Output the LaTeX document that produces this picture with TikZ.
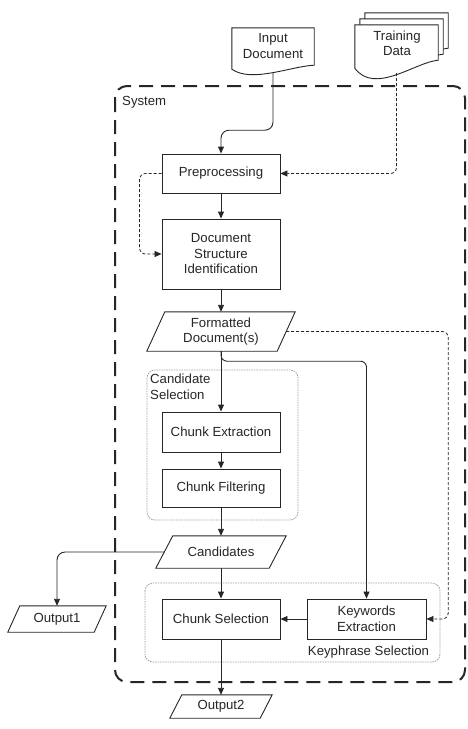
\documentclass[tikz,border=0pt]{standalone}
\usepackage{fontspec}
\setmainfont{Liberation Sans}
\usetikzlibrary{arrows.meta,calc}
\definecolor{ink}{rgb}{0.15,0.15,0.15}
\tikzset{
 txt/.style={font=\fontsize{13.2}{15.5}\selectfont, text=ink, align=center, inner sep=0pt},
 blk/.style={txt, draw=ink, line width=0.9pt, fill=white, minimum width=118pt, minimum height=40pt},
 arr/.style={draw=ink, line width=0.9pt, -{Triangle[length=7pt,width=6pt]}},
 darr/.style={arr, dash pattern=on 3pt off 2pt, line width=0.8pt},
 grp/.style={draw=gray!75, line width=0.8pt, dash pattern=on 1.5pt off 1pt, rounded corners=8pt},
 sys/.style={draw=ink, line width=2pt, dash pattern=on 14pt off 8pt, rounded corners=12pt},
 docn/.style={inner sep=0pt, minimum width=83pt, minimum height=48pt},
 shp/.style={draw=ink, line width=0.9pt, fill=white},
}
\newcommand{\parabox}[7]{%
 \node[txt, minimum width=#4pt, minimum height=#5pt] (#1) at (#2,#3) {#7};
 \draw[draw=ink, line width=0.9pt] ([xshift=#6pt]#1.north west) -- ([xshift=#6pt]#1.north east) -- ([xshift=-#6pt]#1.south east) -- ([xshift=-#6pt]#1.south west) -- cycle;}
% name, right end rise, left end rise, control 1 rise, control 2 drop
\newcommand{\docpath}[5]{(#1.north west) -- (#1.north east) -- ($(#1.south east)+(0,-#2)$) .. controls ($(#1.south east)+(-23,-#4)$) and ($(#1.south west)+(20,#5)$) .. ($(#1.south west)+(0,-#3)$) -- cycle}
\begin{document}
\begin{tikzpicture}[x=1pt,y=-1pt]
\useasboundingbox (0,0) rectangle (467,729);
% system and groups
\draw[sys] (115,86) rectangle (465,682);
\draw[grp] (147,370) rectangle (298,520);
\draw[grp] (145,583) rectangle (440,662);
\node[txt, anchor=west] (syslbl) at (122,102) {System};
\node[txt, align=left, anchor=north west] (cslbl) at (150,374) {Candidate\\Selection};
\node[txt] (kplbl) at (368.5,652.5) {Keyphrase Selection};
% documents
\node[docn, minimum width=82pt, minimum height=44pt] (indoc) at (273,50) {};
\draw[shp] \docpath{indoc}{7}{3}{6}{11};
\node[txt] (indoctxt) at (273,46) {Input\\Document};
\node[docn] (train3) at (406.5,37) {};
\draw[shp] \docpath{train3}{13}{5}{11}{22};
\node[docn] (train2) at (401.5,43) {};
\draw[shp] \docpath{train2}{13}{5}{11}{22};
\node[docn] (train) at (396.5,49) {};
\draw[shp] \docpath{train}{13}{5}{11}{22};
\node[txt] (traintxt) at (397,43.5) {Training\\Data};
% process boxes
\node[blk, minimum height=39pt] (pre) at (221,173.5) {Preprocessing};
\node[blk, minimum height=70pt] (dsi) at (221,254) {Document\\Structure\\Identification};
\parabox{fmt}{221}{331.5}{130}{39}{9}{Formatted\\Document(s)}
\node[blk] (ce) at (221,432) {Chunk Extraction};
\node[blk, minimum height=38pt] (cf) at (221,488) {Chunk Filtering};
\parabox{cand}{221}{552}{113}{32}{8.5}{Candidates}
\node[blk] (cs) at (221,619) {Chunk Selection};
\node[blk, minimum width=119pt] (ke) at (366.5,619) {Keywords\\Extraction};
\parabox{out1}{57}{619}{86}{26}{6}{Output1}
\parabox{out2}{221}{706.5}{90}{23}{6}{Output2}
% connectors
\draw[arr, rounded corners=8pt] (indoc.south) -- ++(0,58) -| (pre.north);
\draw[darr, rounded corners=6pt] (train.south) |- (pre.east);
\draw[darr, rounded corners=6pt] (pre.west) -- ++(-22,0) |- (dsi.west);
\draw[arr] (pre.south) -- (dsi.north);
\draw[arr] (dsi.south) -- (fmt.north);
\draw[arr] (fmt.south) -- (ce.north);
\draw[arr, rounded corners=6pt] (fmt.south) -- ++(0,10) -| (ke.north);
\draw[darr, rounded corners=6pt] (fmt.east) -- ++(162,0) |- (ke.east);
\draw[arr] (ce.south) -- (cf.north);
\draw[arr] (cf.south) -- (cand.north);
\draw[arr] (cand.south) -- (cs.north);
\draw[arr, rounded corners=8pt] (cand.west) -| (out1.north);
\draw[arr] (ke.west) -- (cs.east);
\draw[arr] (cs.south) -- (out2.north);
\end{tikzpicture}
\end{document}
